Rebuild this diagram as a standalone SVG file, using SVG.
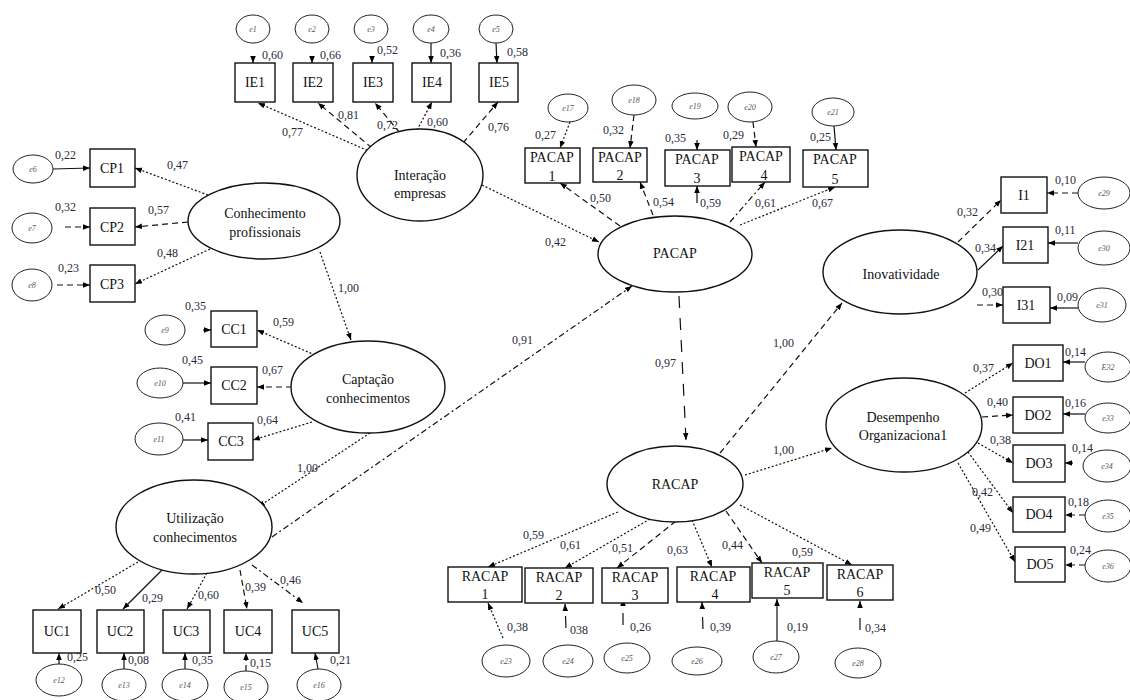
<svg xmlns="http://www.w3.org/2000/svg" width="1130" height="700" viewBox="0 0 1130 700">
<style>
.box{fill:#fff;stroke:#111;stroke-width:1.4}
.lat{fill:#fff;stroke:#111;stroke-width:1.4}
.err{fill:#fff;stroke:#222;stroke-width:1}
.nt{font-family:"Liberation Serif",serif;font-size:14px;fill:#111;text-anchor:middle}
.et{font-family:"Liberation Serif",serif;font-size:8px;font-style:italic;fill:#555;text-anchor:middle}
.lb{font-family:"Liberation Serif",serif;font-size:12px;fill:#2a2a3a}
.c line{stroke:#111;stroke-width:1.2;fill:none;marker-end:url(#a)}
.c .dot{stroke-dasharray:2 2}
.c .dash{stroke-dasharray:6 4}
.c .dd{stroke-dasharray:6 3 2 3}
.c .lg{stroke-dasharray:12 10}
</style>
<defs>
<marker id="a" viewBox="0 0 10 10" refX="10" refY="5" markerWidth="7" markerHeight="7" orient="auto" markerUnits="userSpaceOnUse"><path d="M0,1 L10,5 L0,9 z" fill="#000"/></marker>
</defs>
<rect width="1130" height="700" fill="#fff"/>

<g class="c" id="connectors">
<!-- IE -->
<line x1="253" y1="56" x2="253" y2="63"/>
<line x1="312" y1="56" x2="312" y2="63"/>
<line x1="372" y1="56" x2="372" y2="63"/>
<line x1="431" y1="43" x2="431" y2="63"/>
<line x1="496" y1="43" x2="497" y2="63"/>
<line class="dot" x1="371" y1="152" x2="258" y2="103"/>
<line class="dash" x1="372" y1="148" x2="318" y2="103"/>
<line class="dash" x1="400" y1="133" x2="375" y2="103"/>
<line class="dot" x1="417" y1="130" x2="432" y2="102"/>
<line class="dash" x1="463" y1="143" x2="498" y2="102"/>
<line class="dot" x1="482" y1="185" x2="599" y2="242"/>
<!-- CP -->
<line x1="53" y1="169" x2="90" y2="168"/>
<line class="dash" x1="65" y1="227" x2="90" y2="227"/>
<line class="dash" x1="57" y1="285" x2="90" y2="285"/>
<line class="dot" x1="208" y1="195" x2="135" y2="168"/>
<line class="dash" x1="188" y1="222" x2="135" y2="227"/>
<line class="dot" x1="210" y1="249" x2="135" y2="284"/>
<line class="dot" x1="320" y1="252" x2="351" y2="340"/>
<!-- CC -->
<line x1="203" y1="330" x2="211" y2="330"/>
<line x1="183" y1="383" x2="211" y2="383"/>
<line x1="183" y1="440" x2="208" y2="440"/>
<line class="dot" x1="315" y1="355" x2="257" y2="330"/>
<line class="dash" x1="292" y1="387" x2="257" y2="387"/>
<line class="dot" x1="312" y1="422" x2="253" y2="440"/>
<line class="dot" x1="370" y1="433" x2="258" y2="507"/>
<line class="dd" x1="272" y1="537" x2="632" y2="286"/>
<!-- UC -->
<line class="dot" x1="138" y1="562" x2="58" y2="609"/>
<line x1="162" y1="570" x2="123" y2="609"/>
<line class="dot" x1="207" y1="573" x2="187" y2="609"/>
<line class="dash" x1="240" y1="570" x2="247" y2="609"/>
<line class="dd" x1="252" y1="565" x2="303" y2="603"/>
<line class="dash" x1="59" y1="664" x2="59" y2="653"/>
<line x1="124" y1="669" x2="124" y2="653"/>
<line x1="185" y1="669" x2="185" y2="653"/>
<line class="dash" x1="246" y1="671" x2="246" y2="653"/>
<line x1="318" y1="669" x2="315" y2="653"/>
<!-- PACAP -->
<line class="dot" x1="570" y1="122" x2="560" y2="148"/>
<line class="dash" x1="634" y1="115" x2="630" y2="148"/>
<line x1="697" y1="140" x2="697" y2="150"/>
<line class="dash" x1="753" y1="122" x2="756" y2="147"/>
<line x1="834" y1="126" x2="836" y2="150"/>
<line class="dash" x1="620" y1="226" x2="560" y2="183"/>
<line class="dash" x1="653" y1="215" x2="640" y2="182"/>
<line x1="697" y1="203" x2="697" y2="186"/>
<line class="dd" x1="730" y1="222" x2="765" y2="182"/>
<line class="dot" x1="740" y1="225" x2="835" y2="187"/>
<line class="lg" x1="679" y1="296" x2="686" y2="440"/>
<!-- RACAP to latent -->
<line class="dash" x1="720" y1="453" x2="842" y2="303"/>
<line class="dot" x1="745" y1="475" x2="832" y2="448"/>
<!-- Inov -->
<line class="dash" x1="958" y1="242" x2="1001" y2="200"/>
<line x1="978" y1="270" x2="1003" y2="246"/>
<line class="dash" x1="977" y1="305" x2="1003" y2="305"/>
<line class="dash" x1="1078" y1="193" x2="1047" y2="193"/>
<line x1="1078" y1="243" x2="1048" y2="243"/>
<line x1="1080" y1="308" x2="1050" y2="308"/>
<!-- DO -->
<line class="dot" x1="965" y1="393" x2="1013" y2="363"/>
<line class="dash" x1="982" y1="417" x2="1013" y2="415"/>
<line class="dot" x1="978" y1="443" x2="1013" y2="463"/>
<line class="dot" x1="968" y1="452" x2="1013" y2="513"/>
<line class="dot" x1="958" y1="463" x2="1015" y2="562"/>
<line x1="1085" y1="362" x2="1063" y2="362"/>
<line x1="1085" y1="414" x2="1063" y2="414"/>
<line x1="1073" y1="463" x2="1065" y2="463"/>
<line class="dash" x1="1085" y1="515" x2="1065" y2="515"/>
<line class="dash" x1="1085" y1="565" x2="1065" y2="565"/>
<!-- RACAP -->
<line class="dot" x1="618" y1="512" x2="488" y2="567"/>
<line class="dot" x1="650" y1="519" x2="565" y2="568"/>
<line class="dash" x1="676" y1="521" x2="617" y2="568"/>
<line class="dot" x1="692" y1="520" x2="712" y2="567"/>
<line class="dash" x1="726" y1="511" x2="762" y2="563"/>
<line class="dot" x1="740" y1="505" x2="852" y2="565"/>
<line class="dot" x1="503" y1="638" x2="488" y2="603"/>
<line class="lg" x1="566" y1="628" x2="565" y2="604"/>
<line class="lg" x1="623" y1="625" x2="623" y2="599"/>
<line class="lg" x1="703" y1="629" x2="702" y2="602"/>
<line x1="777" y1="641" x2="777" y2="599"/>
<line class="lg" x1="860" y1="630" x2="860" y2="601"/>
</g>

<g id="n-ie">
<ellipse class="err" cx="253" cy="29" rx="17" ry="14"/><text class="et" x="253" y="32">e1</text>
<ellipse class="err" cx="312" cy="29" rx="17" ry="14"/><text class="et" x="312" y="32">e2</text>
<ellipse class="err" cx="371" cy="29" rx="17" ry="14"/><text class="et" x="371" y="32">e3</text>
<ellipse class="err" cx="431" cy="29" rx="18" ry="14"/><text class="et" x="431" y="32">e4</text>
<ellipse class="err" cx="496" cy="29" rx="17" ry="14"/><text class="et" x="496" y="32">e5</text>
<rect class="box" x="235" y="63" width="40" height="39"/><text class="nt" x="255" y="87">IE1</text>
<rect class="box" x="293" y="63" width="40" height="39"/><text class="nt" x="313" y="87">IE2</text>
<rect class="box" x="353" y="63" width="40" height="39"/><text class="nt" x="373" y="87">IE3</text>
<rect class="box" x="412" y="63" width="39" height="39"/><text class="nt" x="432" y="87">IE4</text>
<rect class="box" x="479" y="63" width="39" height="39"/><text class="nt" x="499" y="87">IE5</text>
</g>
<g id="n-interacao">
<ellipse class="lat" cx="420" cy="175" rx="63" ry="46"/>
<text class="nt" x="420" y="180">Interação</text><text class="nt" x="420" y="198">empresas</text>
</g>

<g id="n-cp">
<ellipse class="err" cx="33" cy="169" rx="20" ry="14"/><text class="et" x="33" y="172">e6</text>
<ellipse class="err" cx="32" cy="228" rx="20" ry="15"/><text class="et" x="32" y="231">e7</text>
<ellipse class="err" cx="32" cy="285" rx="20" ry="16"/><text class="et" x="32" y="288">e8</text>
<rect class="box" x="90" y="149" width="45" height="38"/><text class="nt" x="112" y="173">CP1</text>
<rect class="box" x="90" y="208" width="45" height="37"/><text class="nt" x="112" y="232">CP2</text>
<rect class="box" x="90" y="265" width="45" height="37"/><text class="nt" x="112" y="289">CP3</text>
</g>
<g id="n-conhecimento">
<ellipse class="lat" cx="264" cy="221" rx="76" ry="38"/>
<text class="nt" x="265" y="218">Conhecimento</text><text class="nt" x="265" y="237">profissionais</text>
</g>

<g id="n-cc">
<ellipse class="err" cx="165" cy="330" rx="20" ry="15"/><text class="et" x="165" y="333">e9</text>
<ellipse class="err" cx="160" cy="383" rx="23" ry="15"/><text class="et" x="160" y="386">e10</text>
<ellipse class="err" cx="159" cy="439" rx="24" ry="16"/><text class="et" x="159" y="442">e11</text>
<rect class="box" x="211" y="311" width="46" height="36"/><text class="nt" x="234" y="334">CC1</text>
<rect class="box" x="211" y="367" width="46" height="37"/><text class="nt" x="234" y="390">CC2</text>
<rect class="box" x="208" y="423" width="45" height="37"/><text class="nt" x="231" y="446">CC3</text>
</g>
<g id="n-captacao">
<ellipse class="lat" cx="368" cy="387" rx="77" ry="46"/>
<text class="nt" x="368" y="384">Captação</text><text class="nt" x="368" y="403">conhecimentos</text>
</g>

<g id="n-utilizacao">
<ellipse class="lat" cx="194" cy="527" rx="78" ry="47"/>
<text class="nt" x="195" y="523">Utilização</text><text class="nt" x="195" y="542">conhecimentos</text>
</g>
<g id="n-uc">
<rect class="box" x="33" y="610" width="48" height="43"/><text class="nt" x="57" y="636">UC1</text>
<rect class="box" x="97" y="610" width="47" height="43"/><text class="nt" x="120" y="636">UC2</text>
<rect class="box" x="163" y="610" width="47" height="43"/><text class="nt" x="186" y="636">UC3</text>
<rect class="box" x="224" y="610" width="48" height="43"/><text class="nt" x="248" y="636">UC4</text>
<rect class="box" x="292" y="610" width="47" height="43"/><text class="nt" x="315" y="636">UC5</text>
<ellipse class="err" cx="59" cy="680" rx="23" ry="16"/><text class="et" x="59" y="683">e12</text>
<ellipse class="err" cx="124" cy="685" rx="22" ry="16"/><text class="et" x="124" y="688">e13</text>
<ellipse class="err" cx="185" cy="685" rx="23" ry="16"/><text class="et" x="185" y="688">e14</text>
<ellipse class="err" cx="246" cy="687" rx="22" ry="16"/><text class="et" x="246" y="690">e15</text>
<ellipse class="err" cx="319" cy="685" rx="22" ry="16"/><text class="et" x="319" y="688">e16</text>
</g>

<g id="n-pacap-items">
<ellipse class="err" cx="568" cy="108" rx="20" ry="14"/><text class="et" x="568" y="111">e17</text>
<ellipse class="err" cx="634" cy="100" rx="22" ry="15"/><text class="et" x="634" y="103">e18</text>
<ellipse class="err" cx="695" cy="106" rx="23" ry="13"/><text class="et" x="695" y="109">e19</text>
<ellipse class="err" cx="750" cy="107" rx="22" ry="15"/><text class="et" x="750" y="110">e20</text>
<ellipse class="err" cx="833" cy="112" rx="21" ry="14"/><text class="et" x="833" y="115">e21</text>
<rect class="box" x="525" y="148" width="55" height="35"/><text class="nt" x="552" y="162">PACAP</text><text class="nt" x="552" y="181">1</text>
<rect class="box" x="593" y="148" width="54" height="34"/><text class="nt" x="620" y="162">PACAP</text><text class="nt" x="620" y="180">2</text>
<rect class="box" x="665" y="150" width="65" height="36"/><text class="nt" x="697" y="164">PACAP</text><text class="nt" x="697" y="183">3</text>
<rect class="box" x="732" y="147" width="58" height="35"/><text class="nt" x="761" y="161">PACAP</text><text class="nt" x="764" y="180">4</text>
<rect class="box" x="803" y="150" width="65" height="37"/><text class="nt" x="835" y="164">PACAP</text><text class="nt" x="835" y="184">5</text>
</g>
<g id="n-pacap">
<ellipse class="lat" cx="675" cy="254" rx="77" ry="38"/><text class="nt" x="675" y="258">PACAP</text>
</g>

<g id="n-racap">
<ellipse class="lat" cx="675" cy="484" rx="68" ry="38"/><text class="nt" x="675" y="489">RACAP</text>
</g>
<g id="n-racap-items">
<rect class="box" x="448" y="567" width="74" height="35"/><text class="nt" x="485" y="581">RACAP</text><text class="nt" x="485" y="599">1</text>
<rect class="box" x="525" y="568" width="68" height="35"/><text class="nt" x="559" y="582">RACAP</text><text class="nt" x="559" y="600">2</text>
<rect class="box" x="602" y="568" width="66" height="35"/><text class="nt" x="635" y="582">RACAP</text><text class="nt" x="635" y="600">3</text>
<rect class="box" x="677" y="567" width="73" height="35"/><text class="nt" x="713" y="581">RACAP</text><text class="nt" x="715" y="599">4</text>
<rect class="box" x="752" y="563" width="71" height="35"/><text class="nt" x="787" y="577">RACAP</text><text class="nt" x="787" y="595">5</text>
<rect class="box" x="827" y="565" width="66" height="35"/><text class="nt" x="860" y="579">RACAP</text><text class="nt" x="860" y="597">6</text>
<ellipse class="err" cx="506" cy="661" rx="24" ry="16"/><text class="et" x="506" y="664">e23</text>
<ellipse class="err" cx="568" cy="661" rx="25" ry="16"/><text class="et" x="568" y="664">e24</text>
<ellipse class="err" cx="627" cy="658" rx="23" ry="15"/><text class="et" x="627" y="661">e25</text>
<ellipse class="err" cx="697" cy="661" rx="25" ry="14"/><text class="et" x="697" y="664">e26</text>
<ellipse class="err" cx="776" cy="657" rx="23" ry="16"/><text class="et" x="776" y="660">e27</text>
<ellipse class="err" cx="858" cy="663" rx="23" ry="15"/><text class="et" x="858" y="666">e28</text>
</g>

<g id="n-inov">
<ellipse class="lat" cx="900" cy="272" rx="77" ry="42"/><text class="nt" x="901" y="279">Inovatividade</text>
</g>
<g id="n-inov-items">
<rect class="box" x="1001" y="177" width="46" height="36"/><text class="nt" x="1024" y="200">I1</text>
<rect class="box" x="1003" y="227" width="45" height="36"/><text class="nt" x="1025" y="250">I21</text>
<rect class="box" x="1003" y="287" width="47" height="36"/><text class="nt" x="1026" y="310">I31</text>
<ellipse class="err" cx="1104" cy="193" rx="26" ry="16"/><text class="et" x="1104" y="196">e29</text>
<ellipse class="err" cx="1104" cy="248" rx="26" ry="17"/><text class="et" x="1104" y="251">e30</text>
<ellipse class="err" cx="1102" cy="305" rx="24" ry="17"/><text class="et" x="1102" y="308">e31</text>
</g>

<g id="n-do">
<ellipse class="lat" cx="904" cy="425" rx="78" ry="47"/>
<text class="nt" x="903" y="422">Desempenho</text><text class="nt" x="903" y="440">Organizaciona1</text>
</g>
<g id="n-do-items">
<rect class="box" x="1013" y="345" width="50" height="36"/><text class="nt" x="1038" y="368">DO1</text>
<rect class="box" x="1013" y="397" width="50" height="36"/><text class="nt" x="1038" y="420">DO2</text>
<rect class="box" x="1013" y="445" width="52" height="37"/><text class="nt" x="1039" y="468">DO3</text>
<rect class="box" x="1013" y="497" width="52" height="35"/><text class="nt" x="1039" y="519">DO4</text>
<rect class="box" x="1015" y="547" width="50" height="35"/><text class="nt" x="1040" y="569">DO5</text>
<ellipse class="err" cx="1108" cy="367" rx="23" ry="15"/><text class="et" x="1108" y="370">E32</text>
<ellipse class="err" cx="1108" cy="418" rx="23" ry="15"/><text class="et" x="1108" y="421">e33</text>
<ellipse class="err" cx="1107" cy="466" rx="24" ry="16"/><text class="et" x="1107" y="469">e34</text>
<ellipse class="err" cx="1108" cy="516" rx="23" ry="16"/><text class="et" x="1108" y="519">e35</text>
<ellipse class="err" cx="1108" cy="566" rx="23" ry="16"/><text class="et" x="1108" y="569">e36</text>
</g>

<g id="labels" class="lb">
<text x="262" y="59">0,60</text><text x="320" y="59">0,66</text><text x="377" y="54">0,52</text><text x="440" y="57">0,36</text><text x="507" y="56">0,58</text>
<text x="282" y="136">0,77</text><text x="338" y="119">0,81</text><text x="377" y="129">0,72</text><text x="427" y="126">0,60</text><text x="488" y="131">0,76</text>
<text x="55" y="159">0,22</text><text x="167" y="169">0,47</text><text x="55" y="211">0,32</text><text x="148" y="214">0,57</text><text x="157" y="257">0,48</text><text x="58" y="272">0,23</text>
<text x="338" y="292">1,00</text><text x="185" y="310">0,35</text><text x="273" y="326">0,59</text><text x="182" y="364">0,45</text><text x="262" y="374">0,67</text><text x="175" y="421">0,41</text><text x="257" y="424">0,64</text>
<text x="297" y="472">1,00</text><text x="512" y="344">0,91</text>
<text x="95" y="594">0,50</text><text x="142" y="602">0,29</text><text x="198" y="599">0,60</text><text x="245" y="591">0,39</text><text x="280" y="584">0,46</text>
<text x="67" y="661">0,25</text><text x="128" y="664">0,08</text><text x="192" y="664">0,35</text><text x="250" y="667">0,15</text><text x="330" y="664">0,21</text>
<text x="535" y="139">0,27</text><text x="603" y="134">0,32</text><text x="665" y="142">0,35</text><text x="723" y="139">0,29</text><text x="810" y="141">0,25</text>
<text x="590" y="202">0,50</text><text x="653" y="206">0,54</text><text x="700" y="207">0,59</text><text x="755" y="207">0,61</text><text x="812" y="207">0,67</text><text x="545" y="246">0,42</text>
<text x="655" y="367">0,97</text><text x="773" y="347">1,00</text><text x="773" y="454">1,00</text>
<text x="1055" y="184">0,10</text><text x="1055" y="234">0,11</text><text x="1057" y="301">0,09</text><text x="957" y="216">0,32</text><text x="975" y="252">0,34</text><text x="982" y="296">0,30</text>
<text x="973" y="372">0,37</text><text x="987" y="406">0,40</text><text x="990" y="444">0,38</text><text x="972" y="496">0,42</text><text x="970" y="532">0,49</text>
<text x="1065" y="356">0,14</text><text x="1065" y="407">0,16</text><text x="1072" y="452">0,14</text><text x="1068" y="506">0,18</text><text x="1070" y="554">0,24</text>
<text x="523" y="539">0,59</text><text x="560" y="549">0,61</text><text x="612" y="552">0,51</text><text x="667" y="554">0,63</text><text x="722" y="549">0,44</text><text x="792" y="556">0,59</text>
<text x="507" y="631">0,38</text><text x="570" y="634">038</text><text x="630" y="631">0,26</text><text x="710" y="631">0,39</text><text x="787" y="631">0,19</text><text x="865" y="632">0,34</text>
</g>
</svg>
